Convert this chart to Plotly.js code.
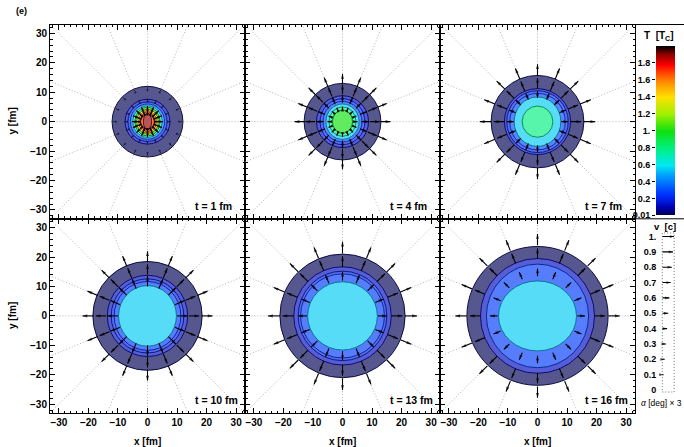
<!DOCTYPE html>
<html><head><meta charset="utf-8">
<script src="https://cdn.plot.ly/plotly-3.0.1.min.js"></script>
<style>html,body{margin:0;padding:0;background:#fff}#chart{width:684px;height:447px}</style>
</head><body><div id="chart"></div>
<script>
// ================= DATA =================
const panelTimes = [1, 4, 7, 10, 13, 16];              // t [fm]
const rayAngles = [0, 22.5, 45, 67.5, 90, 112.5, 135, 157.5, 180, 202.5, 225, 247.5, 270, 292.5, 315, 337.5]; // deg

// isotherm contours per panel: semi-axes [fm] and temperature T/T_C
const discRx = [
  [12.0, 7.6, 6.6, 5.8, 5.0, 4.3, 3.6, 3.0, 2.3, 1.4],
  [13.0, 8.8, 7.6, 6.6, 5.6, 4.6, 3.4],
  [15.7, 11.2, 10.4, 9.4, 7.9, 5.2],
  [18.5, 13.6, 12.3, 11.3, 9.8],
  [21.2, 16.5, 15.0, 14.2, 11.8],
  [23.9, 19.3, 17.3, 13.2]
];
const discRy = [
  [12.0, 7.6, 6.7, 6.0, 5.4, 4.9, 4.3, 3.8, 3.4, 2.8],
  [13.0, 8.8, 7.8, 6.9, 6.0, 5.0, 4.0],
  [15.7, 11.2, 10.5, 9.6, 8.4, 5.3],
  [18.5, 13.8, 12.6, 11.7, 10.3],
  [21.0, 16.7, 15.2, 14.3, 11.6],
  [23.6, 19.5, 17.6, 11.9]
];
const discT = [
  [0.02, 0.13, 0.22, 0.35, 0.6, 1.0, 1.35, 1.55, 1.72, 1.9],
  [0.02, 0.13, 0.22, 0.3, 0.55, 0.75, 1.0],
  [0.02, 0.13, 0.22, 0.3, 0.55, 0.8],
  [0.02, 0.13, 0.2, 0.27, 0.55],
  [0.02, 0.13, 0.2, 0.27, 0.55],
  [0.02, 0.13, 0.27, 0.55]
];

// velocity arrows per panel: start radius [fm] and |v| [c] (same on every ray)
const arrowR0 = [
  [2.2, 3.9, 7.6, 11.4],
  [3.7, 6.4, 9.3, 12.8],
  [8.0, 11.2, 15.6],
  [10.0, 14.0, 18.2],
  [12.0, 16.5, 21.2],
  [13.5, 19.3, 24.0]
];
const arrowV = [
  [0.4, 0.35, 0.04, 0.04],
  [0.35, 0.65, 0.82, 0.85],
  [0.6, 0.9, 0.98],
  [0.9, 0.88, 0.95],
  [0.75, 0.95, 1.0],
  [0.65, 0.9, 0.95]
];

// temperature palette (T/T_C -> colour)
const tStops  = [0, 0.1, 0.25, 0.45, 0.6, 0.8, 1.0, 1.2, 1.4, 1.6, 1.78, 1.9, 2.0];
const tColors = ['#000040','#0000b0','#0030ff','#0090ff','#00e8f0','#00f080','#10e010','#a0f000','#ffe000','#ff8000','#ff0000','#900000','#000000'];
const cbLevels = [0.01, 0.1, 0.2, 0.3, 0.4, 0.5, 0.6, 0.7, 0.8, 0.9, 1.0, 1.1, 1.2, 1.3, 1.4, 1.5, 1.6, 1.7, 1.8, 1.9, 2.0];
const cbTickVals = [0.01, 0.2, 0.4, 0.6, 0.8, 1.0, 1.2, 1.4, 1.6, 1.8];
const cbTickText = ['0.01', '0.2', '0.4', '0.6', '0.8', '1.', '1.2', '1.4', '1.6', '1.8'];

// velocity key
const legendV = [1.0, 0.9, 0.8, 0.7, 0.6, 0.5, 0.4, 0.3, 0.2, 0.1, 0.0];
const legendText = ['1.', '0.9', '0.8', '0.7', '0.6', '0.5', '0.4', '0.3', '0.2', '0.1', '0'];

// ================= HELPERS =================
const FONT = 'Liberation Sans, Arial, sans-serif';
const W = 684, H = 447;
const ARROW_SCALE = 4.0;     // fm per unit of v
const FILL_ALPHA = 0.66;
const colPx = [[50, 245], [245, 440], [440, 635]];
const rowPx = [[24.5, 218.8], [218.8, 413]];
const pxX = (a, b) => [a / W, b / W];
const pxY = (top, bot) => [1 - bot / H, 1 - top / H];

function hex2rgb(h){ return [1,3,5].map(i => parseInt(h.substr(i,2),16)); }
function tColor(T){
  if (T <= tStops[0]) return hex2rgb(tColors[0]);
  for (let i = 1; i < tStops.length; i++){
    if (T <= tStops[i]){
      const f = (T - tStops[i-1]) / (tStops[i] - tStops[i-1]);
      const a = hex2rgb(tColors[i-1]), b = hex2rgb(tColors[i]);
      return a.map((v,k) => v + (b[k]-v)*f);
    }
  }
  return hex2rgb(tColors[tColors.length-1]);
}
const rgb = c => 'rgb(' + c.map(v => Math.round(v)).join(',') + ')';
const blendWhite = (c, a) => c.map(v => 255*(1-a) + v*a);
const darken = (c, f) => c.map(v => v*f);

function axisBase(showLabels){
  return {
    range: [-33, 33], autorange: false, showline: true, mirror: 'allticks',
    linecolor: '#000', linewidth: 1, ticks: 'inside', ticklen: 5, tickwidth: 1, tickcolor: '#000',
    tickmode: 'linear', tick0: 0, dtick: 10,
    minor: {tickmode: 'linear', tick0: 0, dtick: 2, ticks: 'inside', ticklen: 2.5, tickwidth: 1, tickcolor: '#000', showgrid: false},
    showgrid: false, zeroline: false, showticklabels: showLabels,
    tickfont: {family: FONT, size: 10, weight: 'bold', color: '#000'}, fixedrange: true
  };
}

// arrow = line trace (shafts) + marker trace (heads), built from tails/tips in data units
function arrowTraces(tails, tips, headSizes, xa, ya, clip){
  const lx = [], ly = [], hx = [], hy = [], ang = [];
  tails.forEach((t0, i) => {
    const t1 = tips[i];
    lx.push(t0[0], t1[0], null); ly.push(t0[1], t1[1], null);
    hx.push(t1[0]); hy.push(t1[1]);
    ang.push(90 - Math.atan2(t1[1] - t0[1], t1[0] - t0[0]) * 180 / Math.PI);
  });
  return [
    {type: 'scatter', mode: 'lines', x: lx, y: ly, xaxis: xa, yaxis: ya,
      line: {color: '#000', width: 1.1}, hoverinfo: 'skip', cliponaxis: clip},
    {type: 'scatter', mode: 'markers', x: hx, y: hy, xaxis: xa, yaxis: ya,
      marker: {symbol: 'arrow', size: headSizes, angle: ang, color: '#000', line: {width: 0}},
      hoverinfo: 'skip', cliponaxis: clip}
  ];
}

// ================= BUILD =================
const data = [], shapes = [], annotations = [];
const layout = {
  width: W, height: H, margin: {l: 0, r: 0, t: 0, b: 0},
  paper_bgcolor: '#fff', plot_bgcolor: '#fff', showlegend: false,
  font: {family: FONT, color: '#000'}
};

panelTimes.forEach((t, p) => {
  const id = p === 0 ? '' : String(p + 1);
  const col = p % 3, row = Math.floor(p / 3);
  const xa = 'x' + id, ya = 'y' + id;
  layout['xaxis' + id] = Object.assign(axisBase(row === 1), {domain: pxX(...colPx[col]), anchor: ya});
  layout['yaxis' + id] = Object.assign(axisBase(col === 0), {domain: pxY(...rowPx[row]), anchor: xa});

  // dotted rays
  rayAngles.forEach(a => {
    const r = a * Math.PI / 180;
    shapes.push({type: 'line', xref: xa, yref: ya, x0: 0, y0: 0, x1: 48*Math.cos(r), y1: 48*Math.sin(r),
      line: {color: '#b4b4b4', width: 1, dash: '1px,2px'}, layer: 'below'});
  });
  // isotherm discs (outermost first)
  discRx[p].forEach((rx, k) => {
    const ry = discRy[p][k], c = tColor(discT[p][k]);
    shapes.push({type: 'circle', xref: xa, yref: ya, x0: -rx, x1: rx, y0: -ry, y1: ry,
      fillcolor: rgb(blendWhite(c, FILL_ALPHA)), line: {color: rgb(darken(c, 0.55)), width: 0.9}, layer: 'below'});
  });
  // velocity arrows
  const tails = [], tips = [], hs = [];
  rayAngles.forEach(a => {
    const r = a * Math.PI / 180, c = Math.cos(r), s = Math.sin(r);
    arrowR0[p].forEach((r0, k) => {
      const v = arrowV[p][k], r1 = r0 + v * ARROW_SCALE;
      tails.push([r0*c, r0*s]); tips.push([r1*c, r1*s]);
      hs.push(v < 0.1 ? 3.5 : 5);
    });
  });
  data.push(...arrowTraces(tails, tips, hs, xa, ya, true));

  annotations.push({xref: xa + ' domain', yref: ya + ' domain', x: 0.733, y: 0.068, xanchor: 'left', yanchor: 'middle',
    text: 't = ' + t + ' fm', showarrow: false, font: {family: FONT, size: 10.5, weight: 'bold', color: '#000'}});
});

// ---- temperature colour bar (heatmap in its own axes) ----
const cscale = tStops.map((s, i) => [s / 2, tColors[i]]);
data.push({type: 'heatmap', x: [0, 1], y: cbLevels, z: cbLevels.map(v => [v, v]), zmin: 0, zmax: 2,
  colorscale: cscale, showscale: false, zsmooth: 'best', xaxis: 'x7', yaxis: 'y7', hoverinfo: 'skip'});
layout.xaxis7 = {domain: pxX(656, 675), anchor: 'y7', range: [0, 1], visible: false, fixedrange: true};
layout.yaxis7 = {domain: pxY(46, 215), anchor: 'x7', range: [0.01, 2.0], side: 'left',
  tickmode: 'array', tickvals: cbTickVals, ticktext: cbTickText, ticks: 'outside', ticklen: 3, tickcolor: '#000',
  showline: false, showgrid: false, zeroline: false, fixedrange: true,
  tickfont: {family: FONT, size: 9, weight: 'bold', color: '#000'}};

// ---- velocity key ----
const keyV = legendV.filter(v => v > 0);
data.push(...arrowTraces(keyV.map(v => [0, v]), keyV.map(v => [v, v]), keyV.map(() => 4.5), 'x8', 'y8', false));
layout.xaxis8 = {domain: pxX(662.3, 674.2), anchor: 'y8', range: [0, 1], visible: false, fixedrange: true};
layout.yaxis8 = {domain: pxY(233, 392), anchor: 'x8', range: [-0.013, 1.023],
  tickmode: 'array', tickvals: legendV, ticktext: legendText, ticks: '', showline: false, showgrid: false, zeroline: false,
  fixedrange: true, ticklabelstandoff: 5, tickfont: {family: FONT, size: 9, weight: 'bold', color: '#000'}};
shapes.push({type: 'rect', xref: 'x8 domain', yref: 'y8 domain', x0: 0, x1: 1, y0: 0, y1: 1,
  line: {color: '#707070', width: 1, dash: '1px,2px'}, layer: 'below'});

// ---- frame of the key column ----
shapes.push({type: 'line', xref: 'paper', yref: 'paper', x0: 635/W, x1: 1, y0: 1 - 24.5/H, y1: 1 - 24.5/H, line: {color: '#000', width: 1}});
shapes.push({type: 'line', xref: 'paper', yref: 'paper', x0: 635/W, x1: 1, y0: 1 - 218.8/H, y1: 1 - 218.8/H, line: {color: '#000', width: 1}});

// ---- texts ----
const tf = (s) => ({family: FONT, size: s, weight: 'bold', color: '#000'});
annotations.push({xref: 'paper', yref: 'paper', x: 14/W, y: 1 - 11/H, xanchor: 'left', yanchor: 'middle', text: '(e)', showarrow: false, font: tf(9)});
['x4', 'x5', 'x6'].forEach(a => annotations.push({xref: a + ' domain', yref: 'paper', x: 0.5, y: 1 - 441/H, xanchor: 'center', yanchor: 'middle',
  text: 'x [fm]', showarrow: false, font: tf(10)}));
[121.5, 316].forEach(yc => annotations.push({xref: 'paper', yref: 'paper', x: 12/W, y: 1 - yc/H, xanchor: 'center', yanchor: 'middle',
  text: 'y [fm]', textangle: -90, showarrow: false, font: tf(10)}));
annotations.push({xref: 'paper', yref: 'paper', x: 659/W, y: 1 - 36/H, xanchor: 'center', yanchor: 'middle',
  text: 'T&nbsp;&nbsp;[T<sub>C</sub>]', showarrow: false, font: tf(10)});
annotations.push({xref: 'paper', yref: 'paper', x: 665/W, y: 1 - 226/H, xanchor: 'center', yanchor: 'middle',
  text: 'v&nbsp;&nbsp;[c]', showarrow: false, font: tf(9.5)});
annotations.push({xref: 'paper', yref: 'paper', x: 661/W, y: 1 - 403/H, xanchor: 'center', yanchor: 'middle',
  text: '<i>α</i> [deg] × 3', showarrow: false, font: {family: FONT, size: 8.5, color: '#000'}});

layout.shapes = shapes;
layout.annotations = annotations;
Plotly.newPlot('chart', data, layout, {staticPlot: true, displayModeBar: false});
</script>
</body></html>
